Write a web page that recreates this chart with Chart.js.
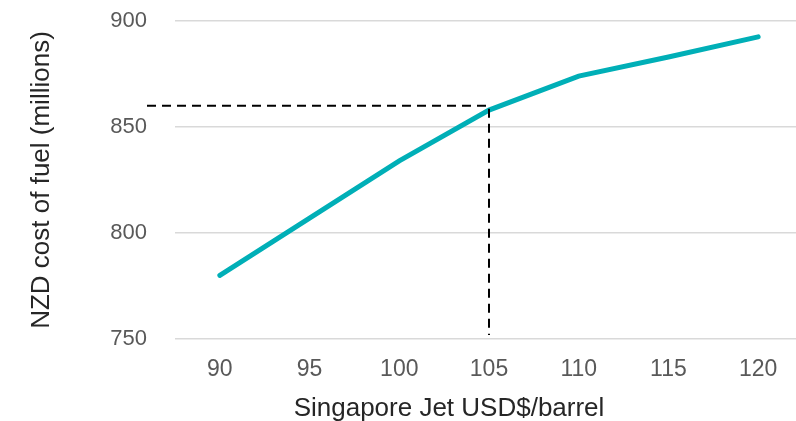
<!DOCTYPE html>
<html>
<head>
<meta charset="utf-8">
<script src="https://cdn.jsdelivr.net/npm/chart.js@4.4.0/dist/chart.umd.min.js"></script>
<style>
  html, body { margin: 0; padding: 0; background: #fff; overflow: hidden; }
  #wrap { width: 803px; height: 421px; }
</style>
</head>
<body>
<div id="wrap"><canvas id="fuel-chart" width="803" height="421"></canvas></div>
<script>
// Singapore Jet price (USD/barrel) vs NZD fuel cost (millions)
const jetPrices = ['90', '95', '100', '105', '110', '115', '120'];
const fuelCosts = [780, 807, 834, 858, 874, 883, 892.5];
const yTicks = [750, 800, 850, 900];
const xTitle = 'Singapore Jet USD$/barrel';

// budget assumption shown by the dashed guide
const refPrice = '105';
const refCost = 860;

// Draws the dashed guide: across from the y axis, then down to the x axis
const guidePlugin = {
    id: 'guide',
    afterDatasetsDraw(chart) {
        const { ctx, chartArea, scales } = chart;
        const x = scales.x.getPixelForValue(jetPrices.indexOf(refPrice));
        const y = scales.y.getPixelForValue(refCost);
        ctx.save();
        ctx.strokeStyle = '#000000';
        ctx.lineWidth = 2;
        ctx.setLineDash([9, 6]);
        ctx.beginPath();
        ctx.moveTo(chartArea.left - 28, y);
        ctx.lineTo(x, y);
        ctx.lineTo(x, chartArea.bottom - 4);
        ctx.stroke();
        ctx.restore();
    }
};

// x axis title sits left of the plot centre in the original, so draw it here
const xTitlePlugin = {
    id: 'xTitle',
    afterDraw(chart) {
        const { ctx, chartArea } = chart;
        ctx.save();
        ctx.fillStyle = '#262626';
        ctx.font = '26px "Liberation Sans"';
        ctx.textAlign = 'center';
        ctx.textBaseline = 'middle';
        ctx.fillText(xTitle, chartArea.left + 274, 409);
        ctx.restore();
    }
};

const ctx = document.getElementById('fuel-chart').getContext('2d');
new Chart(ctx, {
    type: 'line',
    data: {
        labels: jetPrices,
        datasets: [{
            data: fuelCosts,
            borderColor: '#00afb7',
            borderWidth: 5,
            borderCapStyle: 'round',
            pointRadius: 0,
            fill: false,
            tension: 0
        }]
    },
    options: {
        responsive: false,
        animation: false,
        layout: { padding: 0 },
        plugins: {
            legend: { display: false },
            tooltip: { enabled: false }
        },
        scales: {
            x: {
                offset: true,
                grid: { display: false, drawTicks: false },
                border: { display: false },
                ticks: {
                    color: '#595959',
                    font: { family: 'Liberation Sans', size: 23 },
                    padding: 17,
                    maxRotation: 0
                },
                afterFit(scale) { scale.height = 82; }
            },
            y: {
                min: 750,
                max: 900,
                afterBuildTicks(scale) { scale.ticks = yTicks.map(v => ({ value: v })); },
                grid: { color: '#d9d9d9', lineWidth: 1.5, drawTicks: false },
                border: { display: false },
                ticks: {
                    color: '#595959',
                    font: { family: 'Liberation Sans', size: 22 },
                    padding: 28
                },
                title: {
                    display: true,
                    text: 'NZD cost of fuel (millions)',
                    color: '#262626',
                    font: { family: 'Liberation Sans', size: 26 },
                    padding: { top: 26, bottom: 0 }
                },
                afterFit(scale) {
                    scale.width = 175;
                    scale.paddingTop = 21;
                    scale.paddingBottom = 0;
                }
            }
        }
    },
    plugins: [guidePlugin, xTitlePlugin]
});
</script>
</body>
</html>
